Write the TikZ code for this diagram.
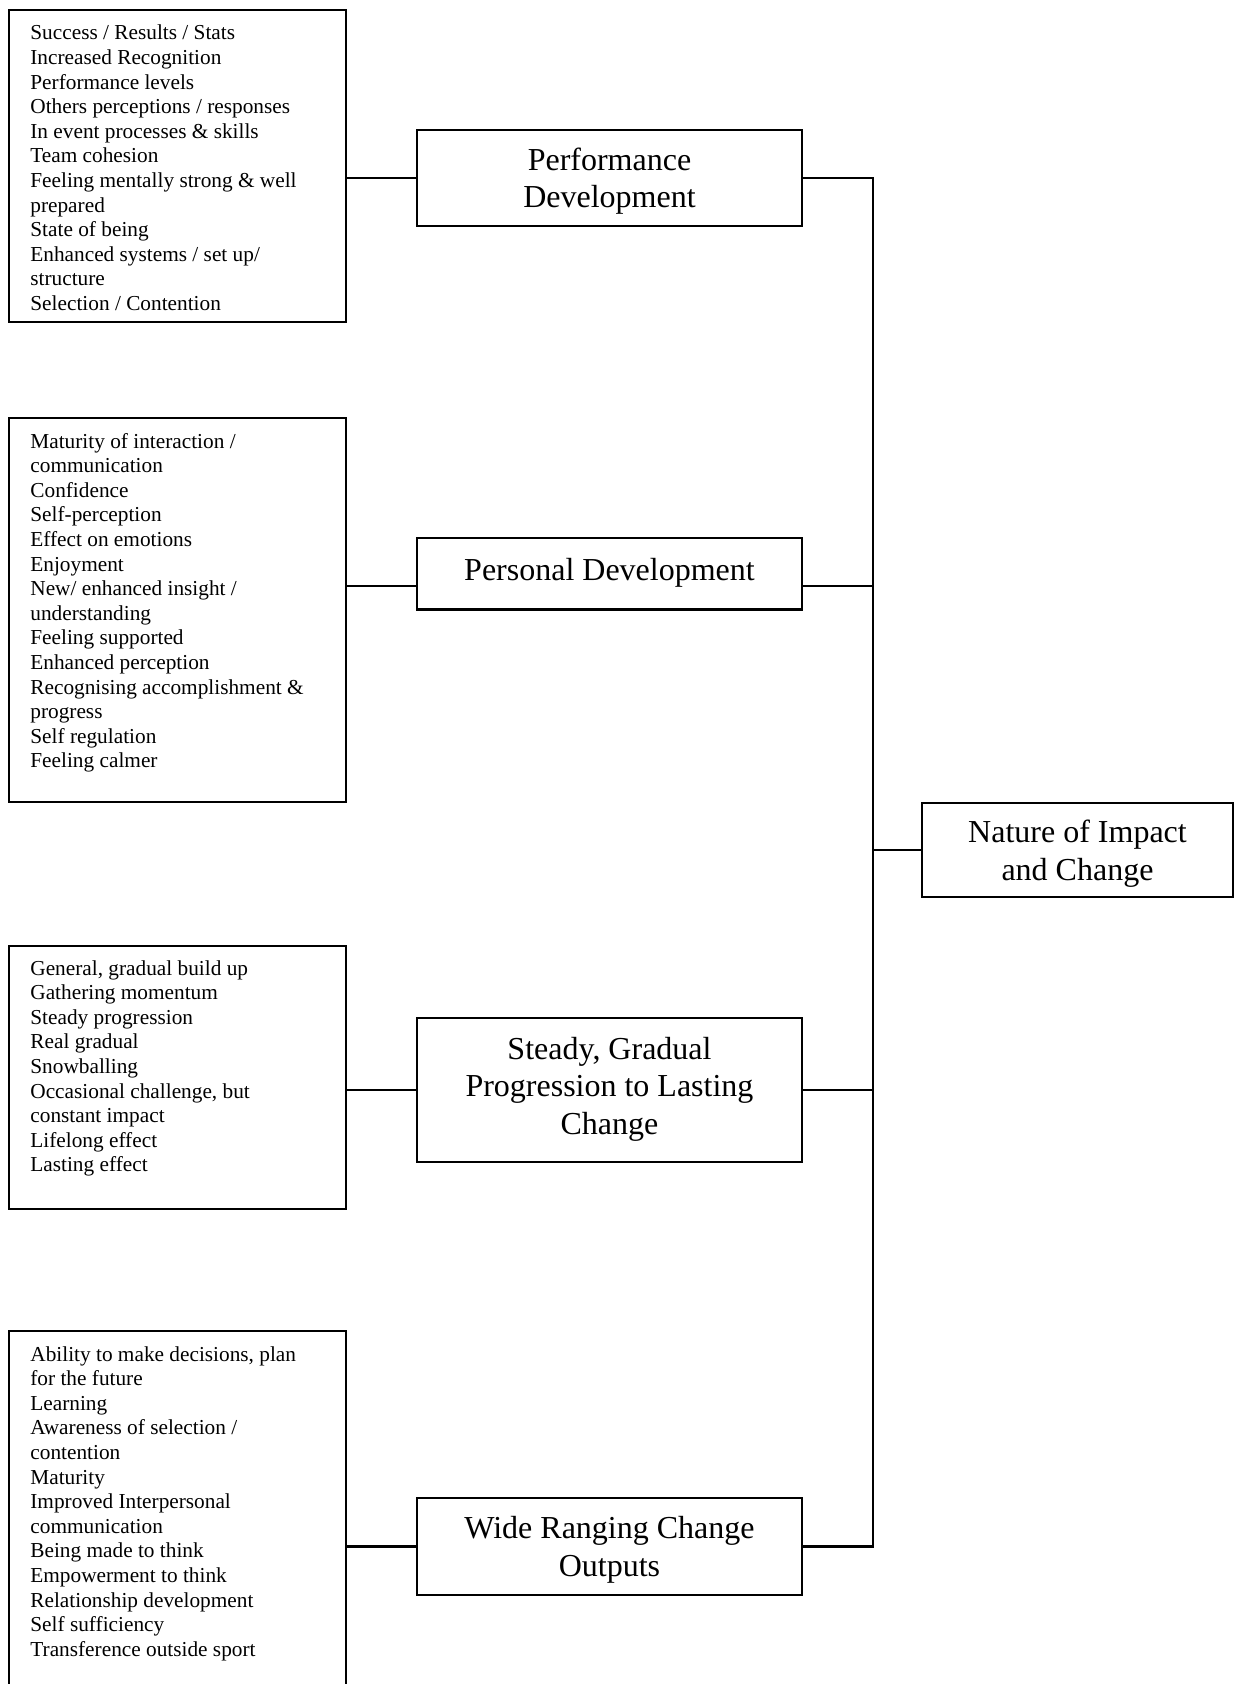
\documentclass[tikz,border=0pt]{standalone}
\usepackage{fontspec}
\setmainfont{Liberation Serif}
\newcommand\itemlist[1]{\parbox[t]{170pt}{\raggedright #1}}
\begin{document}
\begin{tikzpicture}[x=0.5pt,y=-0.5pt,
  frame/.style={draw,line width=1.1pt,rectangle,inner sep=0pt},
  topicfont/.style={align=center,inner sep=0pt,font=\fontsize{16}{18.75}\selectfont},
  mainbox/.style={frame,minimum width=192.2pt},
  items/.style={anchor=base west,inner sep=0pt,font=\fontsize{10.65}{12.3}\selectfont},
  link/.style={line width=1.1pt}]
\useasboundingbox (0,0) rectangle (1240,1684);
\clip (0,0) rectangle (1240,1684);

% outcome lists
\node[frame,minimum width=168.5pt,minimum height=156pt] (l1) at (177.5,166) {};
\node[items] (t1) at (30,40) {\itemlist{Success / Results / Stats\\
Increased Recognition\\
Performance levels\\
Others perceptions / responses\\
In event processes \& skills\\
Team cohesion\\
Feeling mentally strong \& well\\
prepared\\
State of being\\
Enhanced systems / set up/\\
structure\\
Selection / Contention}};

\node[frame,minimum width=168.5pt,minimum height=192pt] (l2) at (177.5,610) {};
\node[items] (t2) at (30,448) {\itemlist{Maturity of interaction /\\
communication\\
Confidence\\
Self-perception\\
Effect on emotions\\
Enjoyment\\
New/ enhanced insight /\\
understanding\\
Feeling supported\\
Enhanced perception\\
Recognising accomplishment \&\\
progress\\
Self regulation\\
Feeling calmer}};

\node[frame,minimum width=168.5pt,minimum height=131.8pt] (l3) at (177.5,1077.5) {};
\node[items] (t3) at (30,975) {\itemlist{General, gradual build up\\
Gathering momentum\\
Steady progression\\
Real gradual\\
Snowballing\\
Occasional challenge, but\\
constant impact\\
Lifelong effect\\
Lasting effect}};

\node[frame,minimum width=168.5pt,minimum height=184.5pt] (l4) at (177.5,1515.5) {};
\node[items] (t4) at (30,1361) {\itemlist{Ability to make decisions, plan\\
for the future\\
Learning\\
Awareness of selection /\\
contention\\
Maturity\\
Improved Interpersonal\\
communication\\
Being made to think\\
Empowerment to think\\
Relationship development\\
Self sufficiency\\
Transference outside sport}};

% themes
\node[mainbox,minimum height=48pt] (pf) at (609.5,178) {};
\node[topicfont] (pft) at ([yshift=-1.6pt]pf.center) {Performance\\Development};
\node[mainbox,minimum height=35.75pt] (pd) at (609.5,573.75) {};
\node[topicfont] (pdt) at ([yshift=0.4pt]pd.center) {Personal Development};
\node[mainbox,minimum height=72pt] (sg) at (609.5,1090) {};
\node[topicfont] (sgt) at ([yshift=0.4pt]sg.center) {Steady, Gradual\\Progression to Lasting\\Change};
\node[mainbox,minimum height=48.5pt] (wr) at (609.5,1546.5) {};
\node[topicfont] (wrt) at ([yshift=-1.6pt]wr.center) {Wide Ranging Change\\Outputs};
\node[frame,minimum width=155.8pt,minimum height=47.3pt] (nat) at (1077.5,850) {};
\node[topicfont] (natt) at ([yshift=-1.9pt]nat.center) {Nature of Impact\\and Change};

% connectors
\coordinate (trunk) at (873.3,0);
\coordinate (pdc) at ([yshift=-6pt]pd.center);
\draw[link] (l1.east |- pf) -- (pf.west);
\draw[link] (l2.east |- pdc) -- (pd.west |- pdc);
\draw[link] (l3.east |- sg) -- (sg.west);
\draw[link] (l4.east |- wr) -- (wr.west);
\draw[link] (pf.east) -- (trunk |- pf) -- (trunk |- wr) -- (wr.east);
\draw[link] (pd.east |- pdc) -- (trunk |- pdc);
\draw[link] (sg.east) -- (trunk |- sg);
\draw[link] (trunk |- nat) -- (nat.west);
\end{tikzpicture}
\end{document}
